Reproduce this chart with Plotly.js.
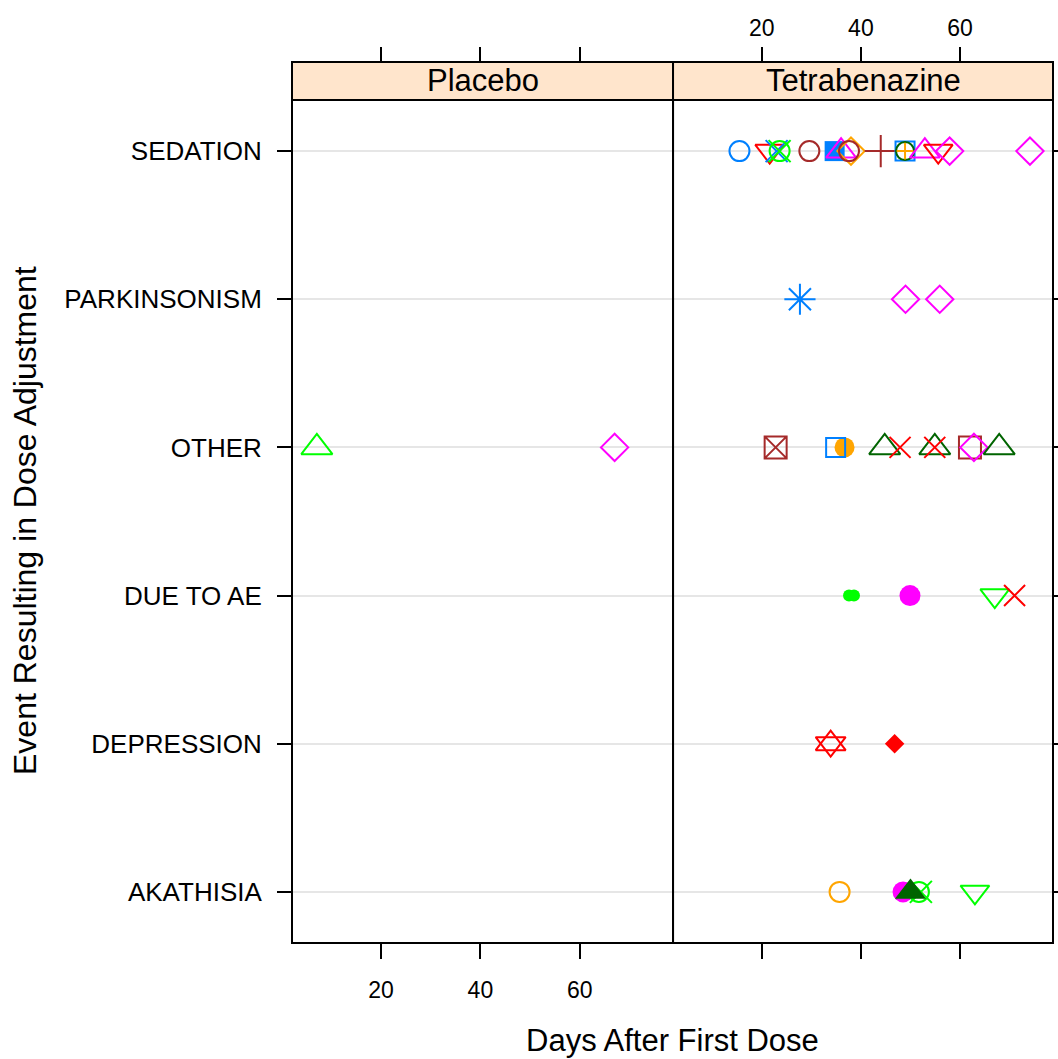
<!DOCTYPE html>
<html>
<head>
<meta charset="utf-8">
<script src="https://cdn.plot.ly/plotly-3.0.1.min.js"></script>
<style>
  html, body { margin: 0; padding: 0; background: #ffffff; }
  #chart { width: 1058px; height: 1059px; }
</style>
</head>
<body>
<div id="chart"></div>
<script>
// Days after first dose at which each dose-adjusting event occurred,
// one entry per event: treatment arm, event type, day, subject style key.
const arm = [
  "Tetrabenazine","Tetrabenazine","Tetrabenazine","Tetrabenazine","Tetrabenazine",
  "Tetrabenazine","Tetrabenazine","Tetrabenazine","Tetrabenazine","Tetrabenazine",
  "Tetrabenazine","Tetrabenazine","Tetrabenazine","Tetrabenazine","Tetrabenazine",
  "Tetrabenazine","Tetrabenazine","Tetrabenazine",
  "Tetrabenazine","Tetrabenazine","Tetrabenazine",
  "Tetrabenazine","Tetrabenazine","Tetrabenazine","Tetrabenazine","Tetrabenazine",
  "Tetrabenazine","Tetrabenazine","Tetrabenazine","Tetrabenazine","Tetrabenazine",
  "Tetrabenazine","Tetrabenazine","Tetrabenazine","Tetrabenazine","Tetrabenazine",
  "Tetrabenazine","Tetrabenazine",
  "Tetrabenazine","Tetrabenazine","Tetrabenazine","Tetrabenazine","Tetrabenazine","Tetrabenazine",
  "Placebo","Placebo"
];
const eventType = [
  "SEDATION","SEDATION","SEDATION","SEDATION","SEDATION",
  "SEDATION","SEDATION","SEDATION","SEDATION","SEDATION",
  "SEDATION","SEDATION","SEDATION","SEDATION","SEDATION",
  "SEDATION","SEDATION","SEDATION",
  "PARKINSONISM","PARKINSONISM","PARKINSONISM",
  "OTHER","OTHER","OTHER","OTHER","OTHER",
  "OTHER","OTHER","OTHER","OTHER","OTHER",
  "DUE TO AE","DUE TO AE","DUE TO AE","DUE TO AE","DUE TO AE",
  "DEPRESSION","DEPRESSION",
  "AKATHISIA","AKATHISIA","AKATHISIA","AKATHISIA","AKATHISIA","AKATHISIA",
  "OTHER","OTHER"
];
const day = [
  15.5, 21.6, 23.0, 23.6, 23.6,
  29.6, 34.7, 36.0, 38.0, 37.6,
  44.0, 48.9, 48.9, 48.9, 52.9,
  55.6, 57.9, 74.1,
  27.7, 49.0, 55.9,
  22.8, 36.7, 34.9, 44.8, 47.9,
  54.9, 54.9, 62.0, 62.8, 67.9,
  37.6, 38.6, 49.9, 67.0, 71.0,
  33.9, 46.8,
  35.7, 48.5, 51.7, 52.1, 50.0, 63.0,
  7.1, 67.0
];
const subject = [
  "blueCircle","redTriDown","blueX","greenX","greenCircle",
  "brownCircle","blueSquareFilled","magentaTriUp","orangeDiamond","brownCircle",
  "brownPlus","blueSquare","dkgreenCircle","orangePlus","magentaTriUp",
  "redTriDown","magentaDiamond","magentaDiamond",
  "blueAsterisk","magentaDiamond","magentaDiamond",
  "brownBoxX","orangeDot","blueSquare","dkgreenTriUp","redX",
  "dkgreenTriUp","redX","brownSquare","magentaDiamond","dkgreenTriUp",
  "greenDotSmall","greenDotSmall","magentaDot","greenTriDown","redX",
  "redStar","redDiamondFilled",
  "orangeCircle","magentaDot","greenCircle","greenX","dkgreenTriFilled","greenTriDown",
  "greenTriUp","magentaDiamond"
];

const eventLevels = ["AKATHISIA","DEPRESSION","DUE TO AE","OTHER","PARKINSONISM","SEDATION"];
const panels = ["Placebo","Tetrabenazine"];
const xTicks = [20, 40, 60];

// lattice-style superpose colours
const COL = {
  blue: "#0080ff", magenta: "#ff00ff", dkgreen: "#006400", red: "#ff0000",
  orange: "#ffa500", green: "#00ff00", brown: "#a52a2a"
};

// plotting symbol for each subject
const STYLE = {
  blueCircle:       { sym: ["circle-open"], col: COL.blue, size: 20 },
  redTriDown:       { sym: ["triangle-down-open"], col: COL.red, size: 25 },
  blueX:            { sym: ["x-thin-open"], col: COL.blue, size: 22 },
  greenX:           { sym: ["x-thin-open"], col: COL.green, size: 22 },
  greenCircle:      { sym: ["circle-open"], col: COL.green, size: 20 },
  brownCircle:      { sym: ["circle-open"], col: COL.brown, size: 20 },
  blueSquareFilled: { sym: ["square"], col: COL.blue, size: 20 },
  magentaTriUp:     { sym: ["triangle-up-open"], col: COL.magenta, size: 26 },
  orangeDiamond:    { sym: ["diamond-open"], col: COL.orange, size: 21 },
  brownPlus:        { sym: ["cross-thin-open"], col: COL.brown, size: 23 },
  blueSquare:       { sym: ["square-open"], col: COL.blue, size: 19 },
  dkgreenCircle:    { sym: ["circle-open"], col: COL.dkgreen, size: 18 },
  orangePlus:       { sym: ["cross-thin-open"], col: COL.orange, size: 12 },
  magentaDiamond:   { sym: ["diamond-open"], col: COL.magenta, size: 21 },
  blueAsterisk:     { sym: ["asterisk-open"], col: COL.blue, size: 26 },
  brownBoxX:        { sym: ["square-x-open"], col: COL.brown, size: 22 },
  orangeDot:        { sym: ["circle"], col: COL.orange, size: 20 },
  dkgreenTriUp:     { sym: ["triangle-up-open"], col: COL.dkgreen, size: 27 },
  redX:             { sym: ["x-thin-open"], col: COL.red, size: 21 },
  brownSquare:      { sym: ["square-open"], col: COL.brown, size: 22 },
  greenDotSmall:    { sym: ["circle"], col: COL.green, size: 12 },
  magentaDot:       { sym: ["circle"], col: COL.magenta, size: 21 },
  greenTriDown:     { sym: ["triangle-down-open"], col: COL.green, size: 25 },
  redStar:          { sym: ["triangle-up-open", "triangle-down-open"], col: COL.red, size: 26 },
  redDiamondFilled: { sym: ["diamond"], col: COL.red, size: 15 },
  orangeCircle:     { sym: ["circle-open"], col: COL.orange, size: 20 },
  dkgreenTriFilled: { sym: ["triangle-up"], col: COL.dkgreen, size: 27 },
  greenTriUp:       { sym: ["triangle-up-open"], col: COL.green, size: 27 }
};

const SANS = "'Liberation Sans', Arial, sans-serif";

const xRange = [2.1, 78.75];
const yRange = [-0.345, eventLevels.length - 1 + 0.345];
const split = 0.5007;       // boundary between the two panels
const panelTop = 0.95687;   // top of the panels, strips sit above

const traces = [];
day.forEach((d, i) => {
  const st = STYLE[subject[i]];
  const xa = arm[i] === panels[0] ? "x" : "x2";
  st.sym.forEach(sym => {
    const filled = !/open/.test(sym);
    traces.push({
      type: "scatter", mode: "markers",
      x: [d], y: [eventType[i]],
      xaxis: xa, yaxis: "y",
      showlegend: false, hoverinfo: "x+y",
      marker: {
        symbol: sym, size: st.size, color: st.col,
        line: { color: st.col, width: filled ? 0 : 2 }
      }
    });
  });
});

// empty traces so the extra tick axes (top and right) are drawn
traces.push({ type: "scatter", x: [], y: [], xaxis: "x3", yaxis: "y", showlegend: false });
traces.push({ type: "scatter", x: [], y: [], xaxis: "x4", yaxis: "y", showlegend: false });
traces.push({ type: "scatter", x: [], y: [], xaxis: "x2", yaxis: "y2", showlegend: false });

const tickAxis = {
  range: xRange, tickvals: xTicks, ticktext: xTicks.map(String),
  ticks: "outside", ticklen: 15, tickwidth: 2, tickcolor: "#000",
  showgrid: false, zeroline: false, showline: false, fixedrange: true,
  tickfont: { family: SANS, size: 23, color: "#000" }
};

const layout = {
  width: 1058, height: 1059,
  margin: { l: 292, r: 5, t: 62, b: 116 },
  paper_bgcolor: "#ffffff", plot_bgcolor: "#ffffff",
  showlegend: false,
  xaxis: Object.assign({}, tickAxis, { domain: [0, split], anchor: "y", ticklabelstandoff: 11 }),
  xaxis2: Object.assign({}, tickAxis, { domain: [split, 1], anchor: "y", showticklabels: false }),
  xaxis3: Object.assign({}, tickAxis, { overlaying: "x", side: "top", anchor: "free", position: 1, showticklabels: false }),
  xaxis4: Object.assign({}, tickAxis, { overlaying: "x2", side: "top", anchor: "free", position: 1, ticklabelstandoff: 2 }),
  yaxis: {
    domain: [0, panelTop], anchor: "x", type: "category",
    categoryorder: "array", categoryarray: eventLevels, range: yRange,
    ticks: "outside", ticklen: 14, tickwidth: 2, tickcolor: "#000",
    showgrid: true, gridcolor: "#e6e6e6", gridwidth: 2,
    zeroline: false, showline: false, fixedrange: true,
    ticklabelstandoff: 10,
    tickfont: { family: SANS, size: 26, color: "#000" }
  },
  yaxis2: {
    overlaying: "y", side: "right", anchor: "x2", type: "category",
    categoryorder: "array", categoryarray: eventLevels, range: yRange,
    ticks: "outside", ticklen: 14, tickwidth: 2, tickcolor: "#000",
    showgrid: false, zeroline: false, showline: false, showticklabels: false, fixedrange: true
  },
  shapes: [
    // panel frames
    { type: "rect", xref: "paper", yref: "paper", x0: 0, x1: split, y0: 0, y1: panelTop,
      line: { color: "#000", width: 2 }, layer: "above" },
    { type: "rect", xref: "paper", yref: "paper", x0: split, x1: 1, y0: 0, y1: panelTop,
      line: { color: "#000", width: 2 }, layer: "above" },
    // strips
    { type: "rect", xref: "paper", yref: "paper", x0: 0, x1: split, y0: panelTop, y1: 1,
      fillcolor: "#ffe5cc", line: { color: "#000", width: 2 }, layer: "above" },
    { type: "rect", xref: "paper", yref: "paper", x0: split, x1: 1, y0: panelTop, y1: 1,
      fillcolor: "#ffe5cc", line: { color: "#000", width: 2 }, layer: "above" }
  ],
  annotations: [
    { text: panels[0], xref: "paper", yref: "paper", x: split / 2, y: (panelTop + 1) / 2,
      xanchor: "center", yanchor: "middle", showarrow: false,
      font: { family: SANS, size: 31, color: "#000" } },
    { text: panels[1], xref: "paper", yref: "paper", x: (split + 1) / 2, y: (panelTop + 1) / 2,
      xanchor: "center", yanchor: "middle", showarrow: false,
      font: { family: SANS, size: 31, color: "#000" } },
    { text: "Days After First Dose", xref: "paper", yref: "paper", x: 0.5, y: -0.1112,
      xanchor: "center", yanchor: "middle", showarrow: false,
      font: { family: SANS, size: 31, color: "#000" } },
    { text: "Event Resulting in Dose Adjustment", xref: "paper", yref: "paper", x: -0.3509, y: 0.4801,
      xanchor: "center", yanchor: "middle", textangle: -90, showarrow: false,
      font: { family: SANS, size: 32, color: "#000" } }
  ]
};

Plotly.newPlot("chart", traces, layout, { displayModeBar: false, staticPlot: true });
</script>
</body>
</html>
